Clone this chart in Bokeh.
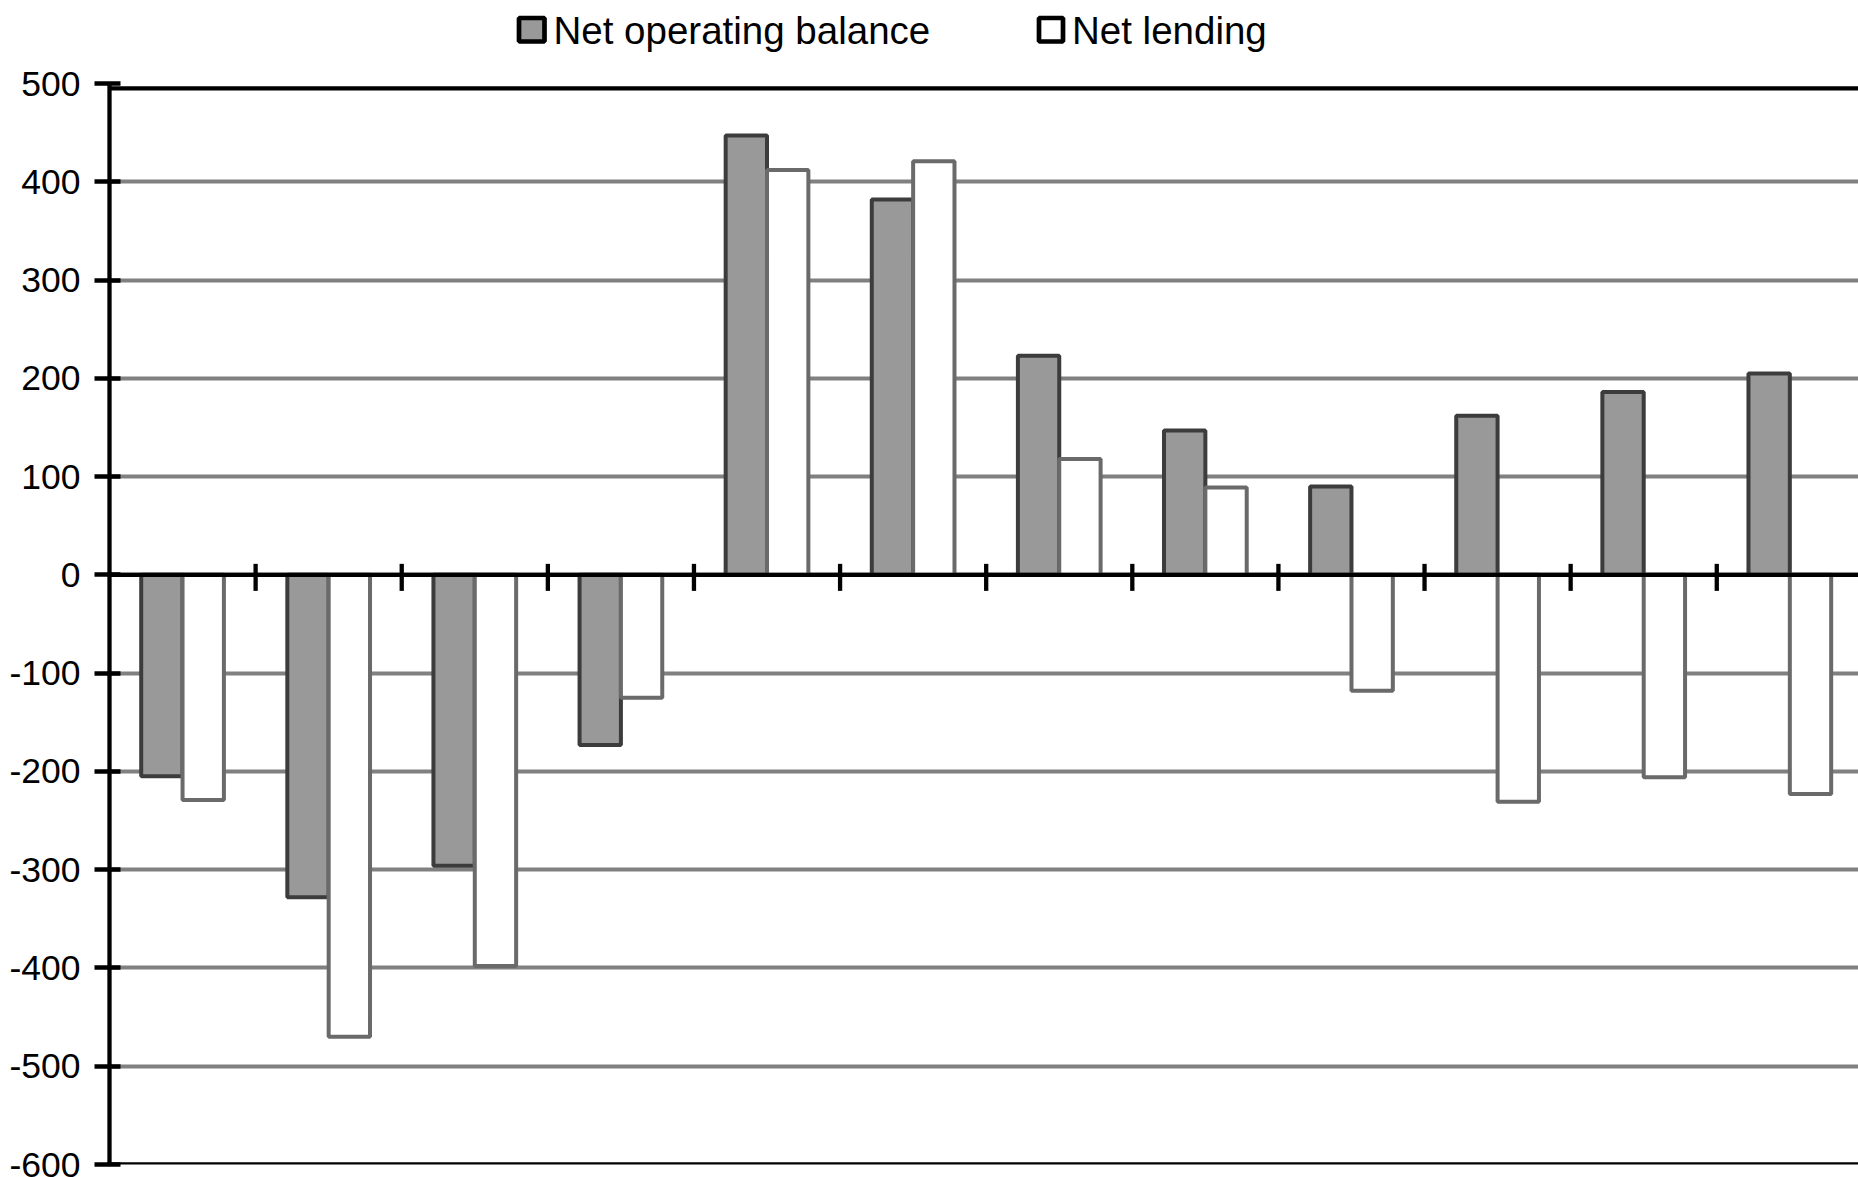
from bokeh.plotting import figure
from bokeh.layouts import column
from bokeh.models import ColumnDataSource, Range1d, FixedTicker, Span
from bokeh.core.properties import value
from bokeh.transform import dodge
from bokeh.embed import file_html
from bokeh.resources import INLINE

# ---- data ----
categories = [1, 2, 3, 4, 5, 6, 7, 8, 9, 10, 11, 12]
net_operating_balance = [-205, -328, -296, -173, 447, 382, 223, 147, 90, 162, 186, 205]
net_lending = [-229, -470, -398, -125, 412, 421, 118, 89, -118, -231, -206, -223]
series_names = ["Net operating balance", "Net lending"]
series_fills = ["#999999", "#ffffff"]
y_ticks = [-600, -500, -400, -300, -200, -100, 0, 100, 200, 300, 400, 500]
y_tick_labels = ["-600", "-500", "-400", "-300", "-200", "-100", "0",
                 "100", "200", "300", "400", "500"]
boundaries = [1.5, 2.5, 3.5, 4.5, 5.5, 6.5, 7.5, 8.5, 9.5, 10.5, 11.5]

FONT = "Liberation Sans"
BAR_W = 0.283
W = 1858
TOTAL_H = 1177
LEG_H = 63
LEFT = 109

# ---------------- legend strip (coordinates = page pixels) ----------------
# (its frame is aligned with the main chart's frame, which starts at x=LEFT)
lg = figure(width=W, height=LEG_H, output_backend="svg", toolbar_location=None,
            x_range=Range1d(LEFT, W), y_range=Range1d(LEG_H, 0),
            x_axis_location=None, y_axis_location=None,
            min_border_left=LEFT, min_border_right=0, min_border_top=0,
            min_border_bottom=0)
lg.outline_line_color = None
lg.xgrid.visible = False
lg.ygrid.visible = False

leg_src = ColumnDataSource(dict(
    left=[518.5, 1038.5], right=[544.0, 1062.5], top=[17.5, 17.5], bottom=[41.0, 41.0],
    fill=series_fills, tx=[553.0, 1071.5], ty=[30.0, 30.0], label=series_names))
lg.quad(left="left", right="right", top="top", bottom="bottom", source=leg_src,
        fill_color="fill", line_color="black", line_width=4.7)
lg.text(x="tx", y="ty", text="label", source=leg_src, text_font=value(FONT),
        text_font_size="38.5px", text_color="black", text_align="left",
        text_baseline="alphabetic")

# ---------------- main chart ----------------
src = ColumnDataSource(dict(cat=categories, nob=net_operating_balance, nl=net_lending))

p = figure(width=W, height=TOTAL_H - LEG_H, output_backend="svg", toolbar_location=None,
           x_range=Range1d(0.5, 12.47), y_range=Range1d(-600, 500),
           x_axis_location=None, min_border_left=LEFT, min_border_right=0,
           min_border_top=20, min_border_bottom=13)
p.outline_line_color = None

ax = p.yaxis[0]
ax.ticker = FixedTicker(ticks=y_ticks)
ax.major_label_overrides = dict(zip(y_ticks, y_tick_labels))
ax.axis_line_color = "black"
ax.axis_line_width = 4.3
ax.major_tick_line_color = "black"
ax.major_tick_line_width = 4.3
ax.major_tick_out = 15
ax.major_tick_in = 11
ax.minor_tick_line_color = None
ax.major_label_text_font = FONT
ax.major_label_text_font_size = "35.5px"
ax.major_label_text_color = "black"
ax.major_label_standoff = 14

p.xgrid.grid_line_color = None
p.ygrid.ticker = FixedTicker(ticks=y_ticks[1:-1])
p.ygrid.grid_line_color = "#808080"
p.ygrid.grid_line_width = 4

r1 = p.vbar(x=dodge("cat", -BAR_W / 2, range=p.x_range), top="nob", bottom=0,
            width=BAR_W, source=src, fill_color=series_fills[0],
            line_color="#3c3c3c", line_width=4)
r2 = p.vbar(x=dodge("cat", BAR_W / 2, range=p.x_range), top="nl", bottom=0,
            width=BAR_W, source=src, fill_color=series_fills[1],
            line_color="#6a6a6a", line_width=4)

# zero (category) axis, plot-area top and bottom borders
p.add_layout(Span(location=0, dimension="width", line_color="black", line_width=4.3))
p.add_layout(Span(location=495, dimension="width", line_color="black", line_width=4.3))
p.add_layout(Span(location=-600, dimension="width", line_color="black", line_width=4.3))
tick_src = ColumnDataSource(dict(x=boundaries))
tr = p.segment(x0="x", x1="x", y0=11.2, y1=-16.3, source=tick_src,
               line_color="black", line_width=4.3)
tr.level = "overlay"

layout = column(lg, p, spacing=0)
open("out.html", "w").write(file_html(layout, INLINE))
